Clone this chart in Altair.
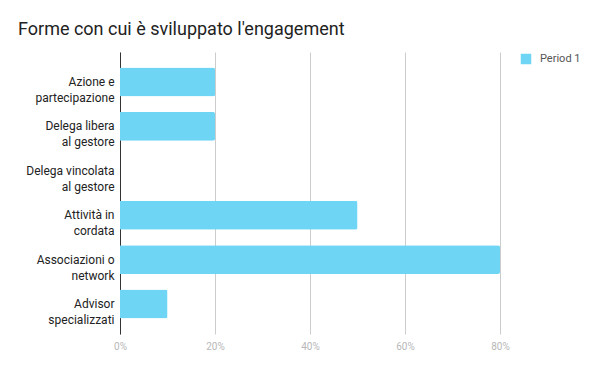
import altair as alt
import pandas as pd

categories = [
    "Azione e\npartecipazione",
    "Delega libera\nal gestore",
    "Delega vincolata\nal gestore",
    "Attività in\ncordata",
    "Associazioni o\nnetwork",
    "Advisor\nspecializzati",
]
values = [0.20, 0.20, 0.0, 0.50, 0.80, 0.10]
series = ["Period 1"] * len(categories)
x_ticks = [0, 0.2, 0.4, 0.6, 0.8]

df = pd.DataFrame({"cat": categories, "val": values, "series": series})

chart = (
    alt.Chart(df)
    .mark_bar(cornerRadiusEnd=2)
    .encode(
        y=alt.Y(
            "cat:N",
            sort=categories,
            scale=alt.Scale(paddingInner=0.35, paddingOuter=0.35),
            axis=alt.Axis(
                title=None,
                labelExpr="split(datum.label, '\\n')",
                labelFont="Roboto",
                labelFontSize=12,
                labelColor="#222222",
                labelLineHeight=16,
                labelPadding=6,
                ticks=False,
                domain=True,
                domainColor="#333333",
                grid=False,
                labelLimit=200,
            ),
        ),
        x=alt.X(
            "val:Q",
            scale=alt.Scale(domain=[0, 0.8], nice=False),
            axis=alt.Axis(
                title=None,
                values=x_ticks,
                format=".0%",
                labelFont="Roboto",
                labelFontSize=10,
                labelColor="#b8b8b8",
                labelPadding=7,
                labelFlush=False,
                ticks=False,
                domain=False,
                grid=True,
                gridColor="#cccccc",
            ),
        ),
        color=alt.Color(
            "series:N",
            scale=alt.Scale(range=["#6fd5f5"]),
            legend=alt.Legend(
                title=None,
                orient="none",
                legendX=400,
                legendY=1,
                symbolType="square",
                symbolSize=110,
                labelFont="Roboto",
                labelFontSize=11,
                labelColor="#555555",
                labelOffset=8,
            ),
        ),
    )
    .properties(
        width=380,
        height=282,
        padding={"left": 112, "top": 44, "right": 92, "bottom": 29},
        autosize=alt.AutoSizeParams(type="none"),
        title=alt.TitleParams(
            "Forme con cui è sviluppato l'engagement",
            anchor="start",
            frame="group",
            font="Roboto",
            fontSize=18,
            fontWeight="normal",
            color="#222222",
            dx=-102,
            offset=13,
        ),
    )
    .configure_view(stroke=None)
)

chart.save("out.html", embed_options={"renderer": "svg", "actions": False})
